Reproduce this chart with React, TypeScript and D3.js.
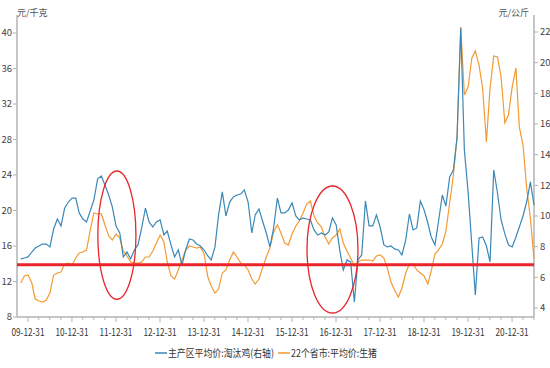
import * as d3 from "d3";
import React from "react";

// monthly observations, 2009-11 .. 2021-07
const months = d3.timeMonth.range(new Date(2009, 10, 1), new Date(2021, 6, 2));

// 主产区平均价:淘汰鸡 (right axis, 元/公斤)
const chickenPrice = [
  7.2, 7.26, 7.33, 7.65, 7.91, 8.04, 8.17, 8.17, 7.98, 9.15,
  9.8, 9.35, 10.52, 10.91, 11.17, 11.17, 10.2, 9.8, 9.61, 10.33,
  11.04, 12.41, 12.61, 12.02, 11.37, 10.59, 9.35, 8.89, 7.33, 7.65,
  7.2, 7.78, 8.11, 9.22, 10.52, 9.61, 9.28, 9.61, 9.74, 8.76,
  9.02, 8.11, 7.33, 7.78, 6.8, 7.78, 8.5, 8.43, 8.17, 8.04,
  7.78, 7.39, 7.13, 7.98, 10.07, 11.57, 10.0, 10.91, 11.24, 11.37,
  11.43, 11.7, 10.91, 8.89, 10.07, 10.46, 9.67, 8.89, 7.98, 9.22,
  11.17, 10.2, 10.2, 10.39, 10.85, 10.0, 9.74, 9.87, 9.8, 9.74,
  9.09, 8.76, 8.89, 8.76, 8.96, 9.87, 9.41, 7.72, 6.48, 7.13,
  7.0, 4.39, 7.13, 7.46, 10.98, 9.35, 9.35, 10.07, 9.28, 8.11,
  7.98, 8.04, 7.85, 7.78, 7.46, 8.43, 10.13, 9.09, 9.22, 10.98,
  10.39, 9.54, 8.63, 8.11, 9.67, 11.37, 10.65, 12.54, 13.0, 15.09,
  22.26, 14.3, 11.57, 8.11, 4.85, 8.57, 8.63, 8.04, 7.0, 13.0,
  11.5, 9.74, 8.83, 8.11, 7.98, 8.63, 9.28, 10.0, 10.91, 12.22,
  10.72,
];

// 22个省市:平均价:生猪 (left axis, 元/千克)
const hogPrice = [
  11.83, 12.62, 12.73, 11.83, 10.03, 9.8, 9.69, 9.92, 10.7, 12.73,
  12.96, 13.07, 13.97, 14.08, 13.86, 14.65, 15.21, 15.32, 15.55, 17.8,
  19.72, 19.61, 19.61, 18.37, 17.13, 16.68, 17.35, 16.9, 15.44, 14.87,
  14.2, 14.08, 14.08, 14.2, 14.76, 14.76, 15.44, 16.34, 17.24, 16.45,
  14.2, 12.62, 12.28, 13.3, 14.42, 15.55, 16.0, 15.89, 15.77, 15.89,
  15.1, 12.51, 11.49, 10.7, 11.15, 12.96, 13.3, 14.42, 15.32, 14.76,
  14.08, 13.86, 13.3, 12.28, 11.72, 12.28, 13.52, 14.76, 15.77, 17.58,
  18.37, 17.46, 16.34, 16.11, 17.35, 18.25, 18.82, 19.72, 20.73, 21.07,
  19.38, 18.59, 18.14, 17.01, 16.23, 16.9, 17.24, 17.92, 16.34, 15.44,
  14.65, 13.75, 14.2, 14.42, 14.42, 14.42, 14.31, 14.87, 14.99, 14.65,
  13.52, 11.94, 11.04, 10.25, 11.27, 12.96, 13.97, 13.97, 13.3, 12.96,
  12.62, 11.72, 13.18, 15.1, 15.55, 16.23, 17.69, 20.85, 24.0, 28.17,
  40.68, 33.01, 33.92, 37.18, 37.97, 36.39, 33.69, 27.72, 33.8, 37.41,
  37.3, 35.04, 29.86, 30.76, 33.92, 36.06, 29.41, 27.38, 22.54, 19.15,
  14.54,
];

const leftTicks = [8, 12, 16, 20, 24, 28, 32, 36, 40];
const rightTicks = [4, 6, 8, 10, 12, 14, 16, 18, 20, 22];
const yearLabels = [
  "09-12-31", "10-12-31", "11-12-31", "12-12-31", "13-12-31", "14-12-31",
  "15-12-31", "16-12-31", "17-12-31", "18-12-31", "19-12-31", "20-12-31",
];
const breakEven = 13.9; // red reference line, left axis

// circled periods (date span, left-axis value span)
const circled = [
  { from: new Date(2011, 7, 3), to: new Date(2012, 5, 14), lo: 10.0, hi: 24.45 },
  { from: new Date(2016, 4, 4), to: new Date(2017, 6, 1), lo: 8.45, hi: 22.76 },
];

const seriesNames = ["主产区平均价:淘汰鸡(右轴)", "22个省市:平均价:生猪"];
const BLUE = "#3a88b8";
const ORANGE = "#f39a33";
const RED = "#e8262b";
const AXIS = "#b3b3b3";
const FONT = "'Noto Sans CJK SC', 'Noto Sans', sans-serif";

export default function App() {
  const width = 550;
  const height = 368;
  const margin = { top: 15, right: 16, bottom: 51, left: 17 };
  const x0 = margin.left;
  const x1 = width - margin.right;
  const y0 = height - margin.bottom;
  const y1 = margin.top;

  const x = d3
    .scaleTime()
    .domain([new Date(2009, 9, 1), new Date(2021, 6, 1)])
    .range([x0, x1]);
  const yL = d3.scaleLinear().domain([8, 42.03]).range([y0, y1]);
  const yR = d3.scaleLinear().domain([3.41, 23.11]).range([y0, y1]);

  const chickenLine = d3
    .line<number>()
    .x((_, i) => x(months[i]))
    .y((d) => yR(d));
  const hogLine = d3
    .line<number>()
    .x((_, i) => x(months[i]))
    .y((d) => yL(d));

  const yearTicks = yearLabels.map((_, i) => new Date(2009 + i, 11, 31));
  const quarterTicks: Date[] = [];
  for (let yr = 2009; yr <= 2021; yr++) {
    [2, 5, 8].forEach((m) => {
      const d = d3.timeDay.offset(new Date(yr, m + 1, 1), -1);
      if (x(d) >= x0 && x(d) <= x1) quarterTicks.push(d);
    });
  }

  return (
    <svg
      width={width}
      height={height}
      style={{ position: "absolute", left: 0, top: 0, background: "#fff" }}
      fontFamily={FONT}
    >
      {/* axes */}
      <line x1={x0} x2={x0} y1={y1} y2={y0} stroke={AXIS} strokeWidth={1.5} />
      <line x1={x1} x2={x1} y1={y1} y2={y0} stroke={AXIS} strokeWidth={1.5} />
      <line x1={x0} x2={x1} y1={y0} y2={y0} stroke={AXIS} strokeWidth={1.5} />

      {leftTicks.map((t) => (
        <g key={"l" + t} transform={`translate(${x0},${yL(t)})`}>
          <line x1={-4} x2={0} stroke={AXIS} />
          <text x={-5} dy="0.35em" textAnchor="end" fontSize={9.5} fill="#444">
            {t}
          </text>
        </g>
      ))}
      {rightTicks.map((t) => (
        <g key={"r" + t} transform={`translate(${x1},${yR(t)})`}>
          <line x1={0} x2={4} stroke={AXIS} />
          <text x={6} dy="0.35em" textAnchor="start" fontSize={9.5} fill="#444">
            {t}
          </text>
        </g>
      ))}
      {quarterTicks.map((d, i) => (
        <line key={"q" + i} x1={x(d)} x2={x(d)} y1={y0} y2={y0 + 3} stroke={AXIS} />
      ))}
      {yearTicks.map((d, i) => (
        <g key={"y" + i} transform={`translate(${x(d)},${y0})`}>
          <line y1={0} y2={5} stroke={AXIS} />
          <text
            y={19}
            textAnchor="middle"
            fontSize={10.5}
            fill="#333"
            textLength={33}
            lengthAdjust="spacingAndGlyphs"
          >
            {yearLabels[i]}
          </text>
        </g>
      ))}

      <text x={x0} y={16} fontSize={9} fill="#555">
        元/千克
      </text>
      <text x={x1 - 5} y={16} fontSize={9} fill="#555" textAnchor="end">
        元/公斤
      </text>

      {/* series */}
      <path d={hogLine(hogPrice) ?? ""} fill="none" stroke={ORANGE} strokeWidth={1.2} />
      <path d={chickenLine(chickenPrice) ?? ""} fill="none" stroke={BLUE} strokeWidth={1.2} />

      {/* reference line and circled periods */}
      <line x1={x0} x2={x1} y1={yL(breakEven)} y2={yL(breakEven)} stroke={RED} strokeWidth={3} />
      {circled.map((c, i) => {
        const cx = (x(c.from) + x(c.to)) / 2;
        const cy = (yL(c.lo) + yL(c.hi)) / 2;
        return (
          <ellipse
            key={"e" + i}
            cx={cx}
            cy={cy}
            rx={(x(c.to) - x(c.from)) / 2}
            ry={(yL(c.lo) - yL(c.hi)) / 2}
            fill="none"
            stroke={RED}
            strokeWidth={1.3}
          />
        );
      })}

      {/* legend */}
      <g transform="translate(155,353)" fontSize={10.5} fill="#333">
        <line x1={0} x2={12} stroke={BLUE} strokeWidth={1.5} />
        <text x={13} dy="0.35em" textLength={106} lengthAdjust="spacingAndGlyphs">
          {seriesNames[0]}
        </text>
        <line x1={123} x2={135} stroke={ORANGE} strokeWidth={1.5} />
        <text x={136} dy="0.35em" textLength={86} lengthAdjust="spacingAndGlyphs">
          {seriesNames[1]}
        </text>
      </g>
    </svg>
  );
}
